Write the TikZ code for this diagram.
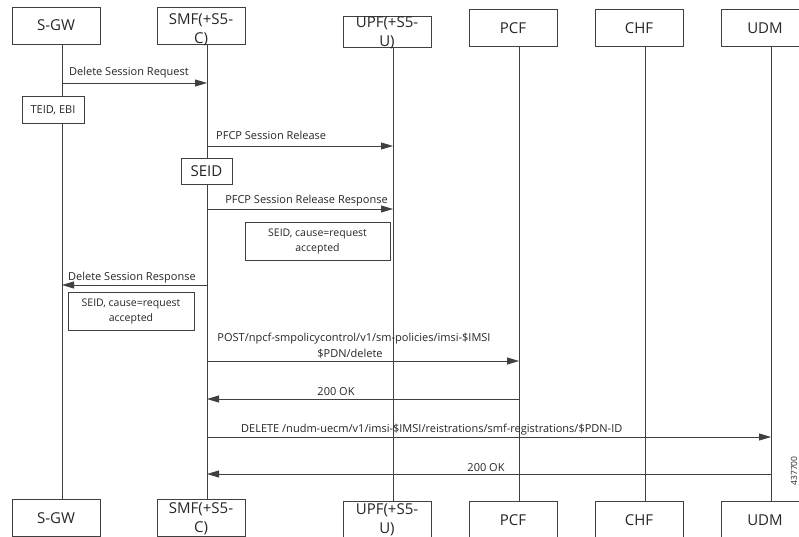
\documentclass[tikz,border=0pt]{standalone}
\usepackage{fontspec}
\setmainfont{Open Sans}
\usetikzlibrary{arrows.meta}

% two-line entity name that does not grow the box
\newcommand{\boxlines}[2][-8pt]{\smash{\raisebox{#1}{\begin{tabular}{@{}c@{}}#2\end{tabular}}}}

\begin{document}
\begin{tikzpicture}[x=1pt,y=-1pt,
    entity/.style={draw=black!75,line width=0.8pt,fill=white,minimum width=88pt,minimum height=37pt,
      inner sep=0pt,align=center,font=\fontsize{15}{19}\selectfont,text=black!85},
    note/.style={draw=black!75,line width=0.8pt,fill=white,inner sep=0pt,align=center,
      font=\fontsize{10.5}{15}\selectfont,text=black!85},
    life/.style={line width=0.8pt,draw=black!75},
    msg/.style={line width=0.8pt,draw=black!75,-{Triangle[length=12pt,width=7pt]}},
    lbl/.style={inner sep=0pt,font=\fontsize{11}{14}\selectfont,text=black!85}]
            \useasboundingbox (0,0) rectangle (799,537);
            \clip (0,0) rectangle (799,537);

            % entities, top row
            \node[entity] (sgw) at (56,25.5) {S-GW};
            \node[entity] (smf) at (201,25.5) {\boxlines{SMF(+S5-\\C)}};
            \node[entity,minimum height=31pt] (upf) at (387,31.5) {\boxlines[-5pt]{UPF(+S5-\\U)}};
            \node[entity] (pcf) at (513,28) {PCF};
            \node[entity] (chf) at (639,28) {CHF};
            \node[entity] (udm) at (765,28) {UDM};

            % entities, bottom row
            \node[entity] (sgwB) at (56,518) {S-GW};
            \node[entity] (smfB) at (201,518) {\boxlines[-5pt]{SMF(+S5-\\C)}};
            \node[entity] (upfB) at (387,520) {\boxlines[-4pt]{UPF(+S5-\\U)}};
            \node[entity] (pcfB) at (513,520) {PCF};
            \node[entity] (chfB) at (639,520) {CHF};
            \node[entity] (udmB) at (765,520) {UDM};

            % lifelines
            \coordinate (sgwL) at ([xshift=6pt]sgw.south);
            \coordinate (smfL) at ([xshift=6pt]smf.south);
            \coordinate (upfL) at ([xshift=6pt]upf.south);
            \coordinate (pcfL) at ([xshift=6pt]pcf.south);
            \coordinate (chfL) at ([xshift=6pt]chf.south);
            \coordinate (udmL) at ([xshift=6pt]udm.south);
            \draw[life] (sgwL) -- ([xshift=6pt]sgwB.north);
            \draw[life] (smfL) -- ([xshift=6pt]smfB.north);
            \draw[life] (upfL) -- ([xshift=6pt]upfB.north);
            \draw[life] (pcfL) -- ([xshift=6pt]pcfB.north);
            \draw[life] (chfL) -- ([xshift=6pt]chfB.north);
            \draw[life] (udmL) -- ([xshift=6pt]udmB.north);

            % messages
            \draw[msg] (sgwL |- 0,83) -- (smfL |- 0,83);
            \node[lbl,anchor=base west] (dsreq) at (69,76) {Delete Session Request};
            \node[note,minimum width=62pt,minimum height=27pt,font=\fontsize{11}{14}\selectfont] (teid) at (53,110) {TEID, EBI};

            \draw[msg] (smfL |- 0,146) -- (upfL |- 0,146);
            \node[lbl,anchor=base west] (pfcprel) at (216,140) {PFCP Session Release};
            \node[note,minimum width=51pt,minimum height=26pt,font=\fontsize{15}{17}\selectfont] (seid) at (206.5,171) {SEID};

            \draw[msg] (smfL |- 0,209) -- (upfL |- 0,209);
            \node[lbl,anchor=base east] (pfcpresp) at (388,204) {PFCP Session Release Response};
            \node[note,minimum width=145pt,minimum height=38pt] (cause1) at (317.5,241) {SEID, cause=request\\accepted};

            \draw[msg] (smfL |- 0,285) -- (sgwL |- 0,285);
            \node[lbl,anchor=base west] (dsresp) at (68,280) {Delete Session Response};
            \node[note,minimum width=126pt,minimum height=38pt] (cause2) at (131,311) {SEID, cause=request\\accepted};

            \draw[msg] (smfL |- 0,361) -- (pcfL |- 0,361);
            \node[lbl,anchor=base] (post) at (354,341) {POST/npcf-smpolicycontrol/v1/sm-policies/imsi-\$IMSI};
            \node[lbl,anchor=base] (postb) at (350,357) {\$PDN/delete};

            \draw[msg] (pcfL |- 0,399) -- (smfL |- 0,399);
            \node[lbl,anchor=base] (okpcf) at (336,395) {200 OK};

            \draw[msg] (smfL |- 0,437) -- (udmL |- 0,437);
            \node[lbl,anchor=base west] (del) at (241,432) {DELETE /nudm-uecm/v1/imsi-\$IMSI/reistrations/smf-registrations/\$PDN-ID};

            \draw[msg] (udmL |- 0,474) -- (smfL |- 0,474);
            \node[lbl,anchor=base] (okudm) at (486,471) {200 OK};

            \node[lbl,rotate=90,font=\fontsize{8.5}{9}\selectfont] (figno) at (794,471) {437700};
        \end{tikzpicture}
\end{document}
